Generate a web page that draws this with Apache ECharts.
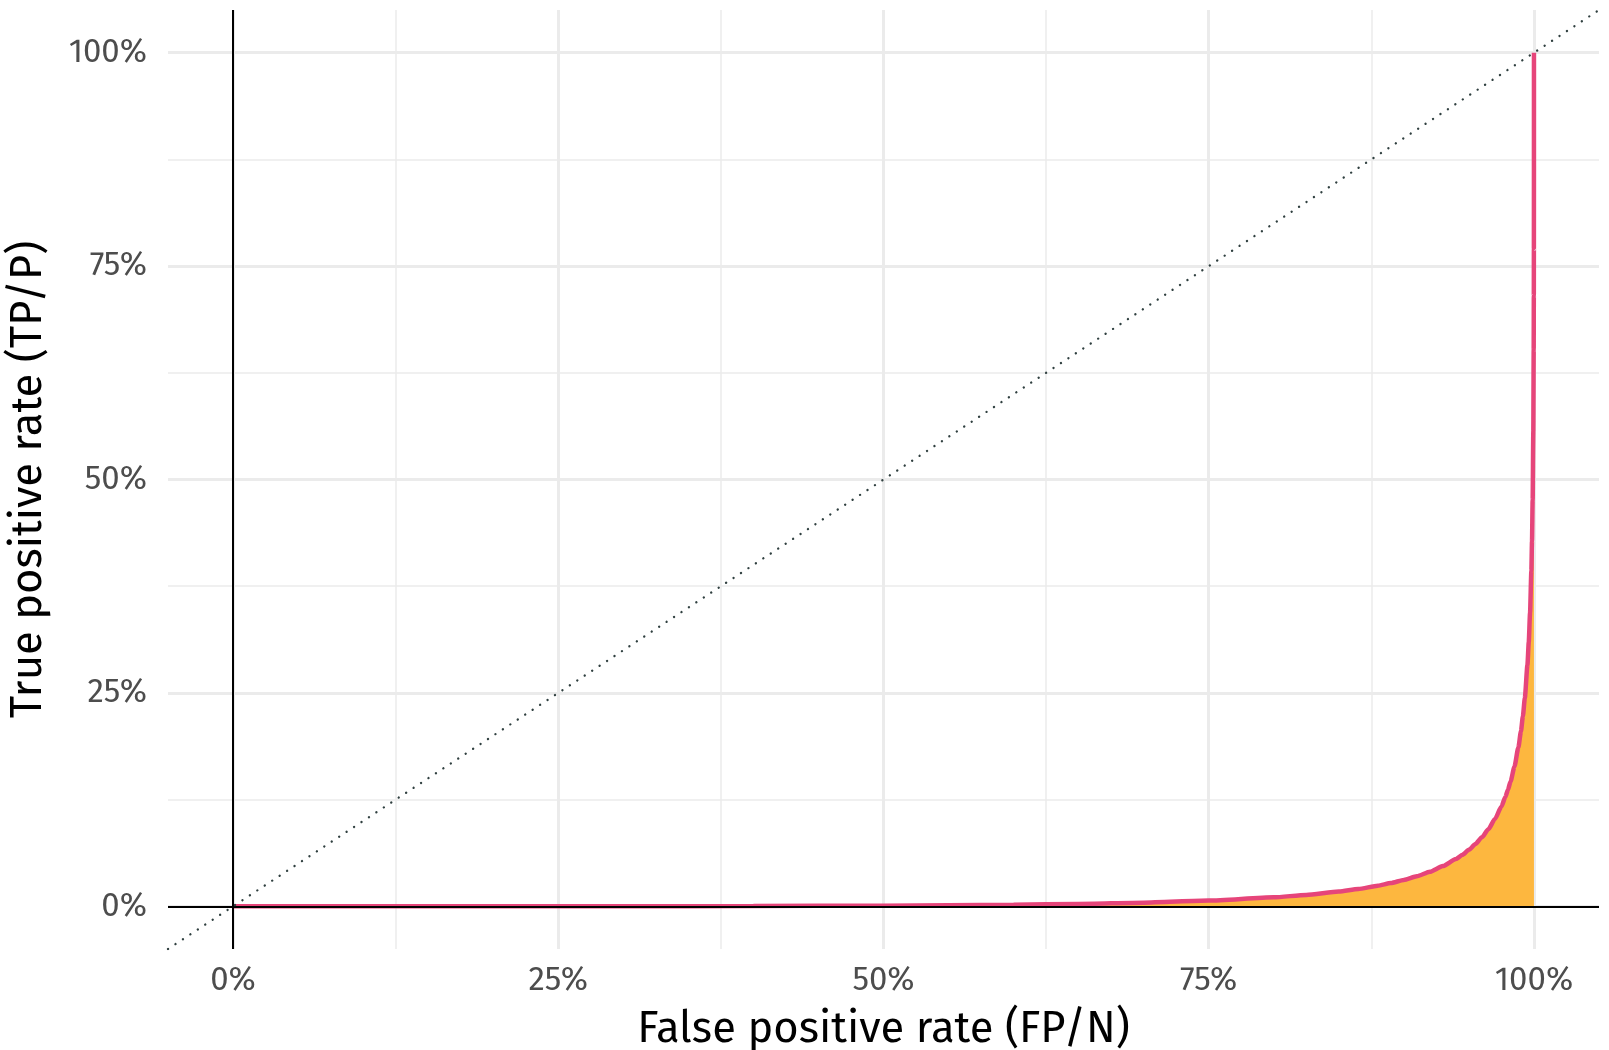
<!DOCTYPE html>
<html>
<head>
<meta charset="utf-8">
<script src="https://cdn.jsdelivr.net/npm/echarts@6/dist/echarts.min.js"></script>
<style>
html,body{margin:0;padding:0;background:#fff;}
#chart{width:1609px;height:1050px;}
</style>
</head>
<body>
<div id="chart"></div>
<script>
// ROC curve (false positive rate vs true positive rate)
const fpr = [0, 0.1, 0.2, 0.3, 0.4, 0.5, 0.6, 0.65, 0.7, 0.75, 0.8, 0.825, 0.85, 0.865, 0.88, 0.89, 0.9, 0.91, 0.92, 0.93, 0.94, 0.945, 0.95, 0.955, 0.96, 0.965, 0.97, 0.975, 0.978, 0.98, 0.982, 0.985, 0.988, 0.99, 0.9915, 0.993, 0.995, 0.996, 0.997, 0.998, 0.9985, 0.999, 0.9995, 0.9998, 0.9999, 0.99995, 0.99999, 0.999999, 1];
const tpr = [0, 0.000005, 0.00003, 0.00012, 0.00033, 0.0008, 0.0019, 0.00285, 0.0043, 0.0067, 0.0105, 0.0134, 0.0173, 0.0203, 0.0241, 0.0272, 0.0309, 0.0352, 0.0405, 0.0471, 0.0553, 0.0603, 0.0662, 0.0729, 0.0809, 0.0904, 0.1022, 0.117, 0.128, 0.1365, 0.1462, 0.1636, 0.186, 0.205, 0.2227, 0.2442, 0.2829, 0.3093, 0.3438, 0.3929, 0.4277, 0.4762, 0.5559, 0.6518, 0.7153, 0.7705, 0.8676, 0.9455, 1];

const majorTicks = [0, 0.25, 0.5, 0.75, 1];
const minorTicks = [0.125, 0.375, 0.625, 0.875];
const axisRange = [-0.05, 1.05];

const FONT = '"Fira Sans", "Noto Sans", sans-serif';
const pct = v => Math.round(v * 100) + '%';

const chart = echarts.init(document.getElementById('chart'), null, {renderer: 'canvas'});

const gridLines = [];
majorTicks.forEach(v => {
  gridLines.push({xAxis: v, lineStyle: {color: '#ebebeb', width: 3, type: 'solid'}});
  gridLines.push({yAxis: v, lineStyle: {color: '#ebebeb', width: 3, type: 'solid'}});
});
minorTicks.forEach(v => {
  gridLines.push({xAxis: v, lineStyle: {color: '#ebebeb', width: 1.5, type: 'solid'}});
  gridLines.push({yAxis: v, lineStyle: {color: '#ebebeb', width: 1.5, type: 'solid'}});
});

const axisCommon = {
  type: 'value',
  min: axisRange[0],
  max: axisRange[1],
  axisLine: {show: false},
  axisTick: {show: false},
  splitLine: {show: false},
  nameLocation: 'middle',
  nameTextStyle: {fontFamily: FONT, fontSize: 43.5, color: '#000'},
};

chart.setOption({
  animation: false,
  backgroundColor: '#fff',
  grid: {left: 168, right: 10, top: 10, bottom: 101, containLabel: false, outerBoundsMode: 'none'},
  xAxis: Object.assign({}, axisCommon, {
    name: 'False positive rate (FP/N)',
    nameGap: 59,
    axisLabel: {customValues: majorTicks, formatter: pct, fontFamily: FONT, fontSize: 33, color: '#4d4d4d', margin: 15}
  }),
  yAxis: Object.assign({}, axisCommon, {
    name: 'True positive rate (TP/P)',
    nameGap: 117,
    nameRotate: 90,
    axisLabel: {customValues: majorTicks, formatter: pct, fontFamily: FONT, fontSize: 33, color: '#4d4d4d', margin: 21}
  }),
  series: [
    {
      type: 'line', z: 0, silent: true, data: [],
      markLine: {z: 0, precision: 8, silent: true, symbol: ['none', 'none'], label: {show: false}, animation: false, data: gridLines}
    },
    {
      type: 'line', z: 2, silent: true, showSymbol: false, symbol: 'none',
      smooth: 0.2, smoothMonotone: 'x',
      data: fpr.map((x, i) => [x, tpr[i]]),
      lineStyle: {color: '#e6457a', width: 4.5},
      areaStyle: {color: '#fdb73f', opacity: 1, origin: 0}
    },
    {
      type: 'line', z: 4, silent: true, data: [],
      markLine: {z: 4, precision: 8, silent: true, symbol: ['none', 'none'], label: {show: false}, animation: false,
        data: [{xAxis: 0, lineStyle: {color: '#000', width: 2, type: 'solid'}},
               {yAxis: 0, lineStyle: {color: '#000', width: 2, type: 'solid'}}]}
    },
    {
      type: 'line', z: 5, silent: true, showSymbol: false, symbol: 'none',
      data: [[axisRange[0], axisRange[0]], [axisRange[1], axisRange[1]]],
      lineStyle: {color: '#2f3f3f', width: 2.3, type: [0.1, 8.8], cap: 'round'}
    }
  ]
});
</script>
</body>
</html>
